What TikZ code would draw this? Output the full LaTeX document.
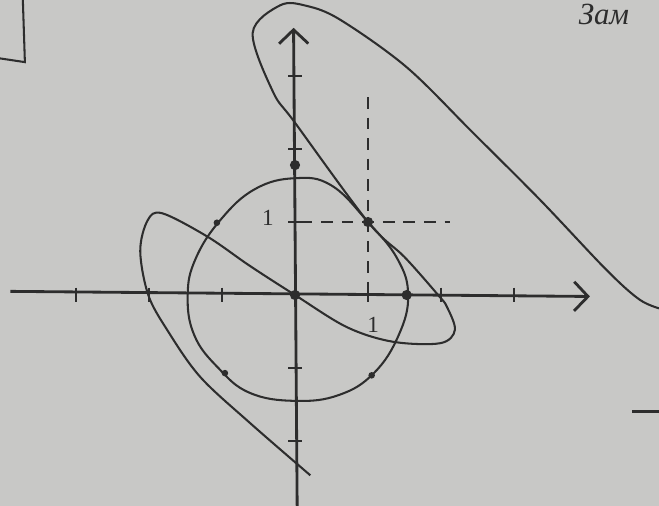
\documentclass[tikz,border=0pt]{standalone}
\usepackage{fontspec}
\setmainfont{Liberation Serif}
\definecolor{paper}{RGB}{200, 200, 198}
\definecolor{ink}{RGB}{45, 45, 45}
\usepackage{tikz}
\usetikzlibrary{arrows.meta, calc}

\begin{document}
\begin{tikzpicture}[
      axis/.style   = {draw=ink, line width=1.1pt,
                       -{Straight Barb[length=1.9mm, width=4mm, line width=1.1pt]}},
      tick/.style   = {draw=ink, line width=1pt},
      curve/.style  = {draw=ink, line width=0.8pt},
      guide/.style  = {draw=ink, line width=0.9pt, dash pattern=on 4.5pt off 3.5pt},
      dot/.style    = {circle, fill=ink, inner sep=0pt, minimum size=1.4mm},
      smalldot/.style = {circle, fill=ink, inner sep=0pt, minimum size=0.9mm},
      lbl/.style    = {text=ink, font=\small, inner sep=0pt},
    ]

    % --- Blatt (Hintergrund) ---
    \fill[paper] (-4.041,-2.890) rectangle (4.986,4.041);
    \useasboundingbox (-4.041,-2.890) rectangle (4.986,4.041);

    % --- Achsen ---
    \coordinate (xmin) at (-3.9,0.05);
    \coordinate (xmax) at (4.04,-0.02);
    \coordinate (ymin) at (0.03,-2.95);
    \coordinate (ymax) at (-0.02,3.66);
    \draw[axis] (xmin) -- (xmax);
    \draw[axis] (ymin) -- (ymax);

    % --- Teilstriche ---
    \foreach \x in {-3,-2,-1,1,2,3}{
      \draw[tick] (\x,0.1) -- (\x,-0.1);
    }
    \foreach \y in {-2,-1,1,2,3}{
      \draw[tick] (-0.09,\y) -- (0.09,\y);
    }
    \node[lbl] (ly) at (-0.37,1.06) {1};
    \node[lbl] (lx) at (1.07,-0.41) {1};

    % --- Hilfslinien durch (1,1) ---
    \coordinate (vtop) at (1,2.71);
    \coordinate (vbot) at (1,0);
    \coordinate (hleft) at (0.08,1);
    \coordinate (hright) at (2.12,1);
    \draw[guide] (vtop) -- (vbot);
    \draw[guide] (hleft) -- (hright);

    % --- Kreis ---
    \draw[curve] plot[smooth cycle, tension=0.7] coordinates {
      (1.55,0) (1.42,-0.55) (1.08,-1.07) (0.6,-1.37) (0,-1.45)
      (-0.62,-1.34) (-1.05,-1.0) (-1.38,-0.55) (-1.47,0)
      (-1.36,0.5) (-1.02,1.03) (-0.55,1.45) (0,1.6) (0.5,1.5)
      (1,1) (1.4,0.5)};

    % --- Kurve mit zwei Schleifen ---
    \draw[curve] plot[smooth, tension=0.55] coordinates {
      (0.21,-2.47) (-0.62,-1.75) (-1.3,-1.12) (-1.75,-0.48) (-2.01,0)
      (-2.12,0.6) (-2.02,1.02) (-1.82,1.12) (-1.2,0.8) (-0.62,0.4)
      (0,0) (0.71,-0.44) (1.34,-0.64) (1.99,-0.66) (2.19,-0.48)
      (2.08,-0.16) (1.96,0) (1.5,0.52) (1,1) (0,2.36) (-0.3,2.78)
      (-0.58,3.59) (-0.2,3.97) (0.16,3.96) (0.62,3.77) (1.53,3.12)
      (2.44,2.22) (3.36,1.3) (4.27,0.34) (4.73,-0.07) (5.05,-0.2)};

    % --- Punkte ---
    \node[dot] (O) at (0,0) {};
    \node[dot] (P) at (1,1) {};
    \node[dot] (R) at (1.53,0) {};
    \node[dot] (T) at (0,1.78) {};
    \node[smalldot] (Q1) at (-1.07,0.99) {};
    \node[smalldot] (Q2) at (-0.96,-1.07) {};
    \node[smalldot] (Q3) at (1.05,-1.1) {};

    % --- Randnotizen ---
    \coordinate (boxa) at (-3.73,4.1);
    \coordinate (boxb) at (-3.70,3.19);
    \coordinate (boxc) at (-4.1,3.25);
    \draw[curve] (boxa) -- (boxb) -- (boxc);
    \coordinate (mark) at (4.62,-1.59);
    \coordinate (markend) at (5.1,-1.59);
    \draw[curve, line width=1.1pt] (mark) -- (markend);
    \node[text=ink, anchor=base west, inner sep=0pt,
          font=\fontsize{12}{12}\selectfont\itshape] (note) at (3.88,3.70) {Зам};

  \end{tikzpicture}
\end{document}
